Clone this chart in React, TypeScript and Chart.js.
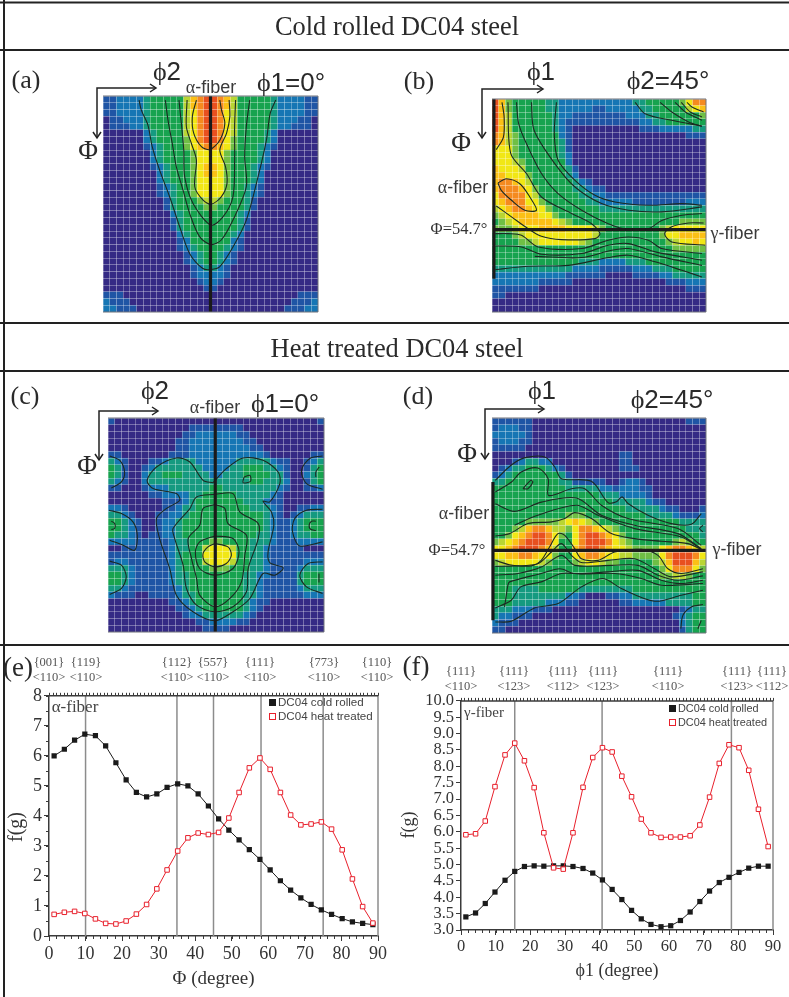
import React, { useEffect, useRef } from "react";
import { Chart, registerables } from "chart.js";

Chart.register(...registerables);

const SERIF = "'Liberation Serif', serif";
const SANS = "'Liberation Sans', sans-serif";

/* ---------- ODF section levels, one character per cell ---------- */
const palette: Record<string, string> = {
  "0": "#352a85", "1": "#1f55a5", "2": "#1676b4", "3": "#159a80", "4": "#17a34f", "5": "#6fbf45",
  "6": "#b9d533", "7": "#f1e715", "8": "#fbc015", "9": "#f58a1f", a: "#e8501f",
};

const gridA = [
  "112222344444689aa986444443222211", "112222344444689aa986444443222211", "112222344444679aa976444443222211",
  "011222344444679aa976444443222110", "011122344444679aa976444443221110", "000000234444679aa976444432000000",
  "000000234444579aa975444432000000", "00000012344457899875444321000000", "00000002344445777754444320000000",
  "00000002344445777754444320000000", "00000001234445788754443210000000", "00000000234445788754443200000000",
  "00000000234445777754443200000000", "00000000123445777754432100000000", "00000000123445777754432100000000",
  "00000000013444566544431000000000", "00000000013444455444431000000000", "00000000002344444444320000000000",
  "00000000001344444444310000000000", "00000000001344444444310000000000", "00000000000234444443200000000000",
  "00000000000124444442100000000000", "00000000000123444432100000000000", "00000000000012344321000000000000",
  "00000000000012344321000000000000", "00000000000001233210000000000000", "00000000000001222210000000000000",
  "00000000000000122100000000000000", "00000000000000011000000000000000", "11100000000000000000000000000111",
  "21110000000000000000000000001112", "22111000000000000000000000011122",
];
const gridB = [
  "a8544444332222222222233444445799", "a8544444332222211222223344444678", "a8644444432211111111222334444445",
  "a8644444432111111111112233444444", "a8644444432100000000001112222233", "98654444442100000000000000000111",
  "98654444443100000000000000000000", "77754444443100000000000000000000", "77754444443200000000000000000000",
  "77765444444200000000000000000000", "87776444444310000000000000000000", "88777544444320000000000000000000",
  "89987644444432100000000000000000", "89998754444433211000000000000000", "79999764444443322111111111111111",
  "78999775444444332222211111111222", "67899877544444443333333333333333", "56788887754444444444444444444444",
  "45678888876544444444444444445555", "55567778888777765444444445677777", "44456777777777764444444445778888",
  "44445567777776544444444444567787", "44444444444444444444444444455555", "44444444444444444444444444444444",
  "44444444444443332222333444444444", "33333333333322221111122233344444", "22222222222111111000011112233333",
  "22222221111100000000000000111222", "11111110000000000000000000000111", "11000000000000000000000000000000",
  "00000000000000000000000000000000", "00000000000000000000000000000000",
];
const gridC = [
  "10000000000000000000000000000001", "00000000000011111111000000000000", "00000000000112222221100000000000",
  "00000000001122222222110000000000", "00000000001122222222211000000000", "11000000011122222222222100000011",
  "32100011233332222223333321100123", "43100123333333222233444332100134", "43100233444333322333444433100234",
  "32100233333333333333344333200134", "11000122233333344333333332100112", "00000011222233444443333321000000",
  "00000000111234444444333211000000", "22100000112334444444433321001122", "33210001122344444444444321012333",
  "44321001223444444444444321123444", "44321001223444444444444321123444", "43321011223444444444443321123344",
  "22221111123344455444433321112222", "00111111123344677764433211111000", "11111111123444777774433211111111",
  "12211111123444677764433211111222", "33321111123444455544433211112333", "44321111123344444444332211113444",
  "44321111123344444444332111113444", "33211111112344444444332111112333", "21110011112334444444332111111222",
  "00000000011234444444321100000000", "00000000001123444444321000000000", "00000000000122333333210000000000",
  "00000000000001122221100000000000", "00000000000000111100000000000000",
];
const gridD = [
  "11111100000000000000000000000111", "12221100000000000000000000000000", "22222100000000000000000000000000",
  "12221100000000000000000000000000", "11111000000000000000000000000000", "00000000000000000001100000000000",
  "00012332200000000001100000000000", "01233444321000000001110000000000", "12344444443100000000000000000000",
  "33444444443311111001221000000000", "44444444444333332212221100000000", "44444444444444443332222100000000",
  "44444444444444444433333211000000", "44444444444444444444333332110001", "44444444444555444444444333321112",
  "44444555556787654444444444443333", "44456899866579987654444444444333", "445789aa975479aa9875444444444443",
  "56789aaa974479aaa976544444456544", "7789aaa9864489aa9877655557899876", "7788998775447899877665555" + "79aaa97",
  "56777776544456776554444456" + "8aaa86", "4444444444444444444444444" + "5799975", "44444444444444444444444445566544",
  "44444444444444444444444444444444", "44433334444443333333344444444444", "44433333333221000112233333333344",
  "44433333222110000001122222333344", "33322211100000000000000000001233", "32211100000000000000000000012344",
  "21110000000000000000000000002344", "11000000000000000000000000001344",
];

/* ---------- contour lines, in degrees [x, y] ---------- */
type Pts = number[][];
const contoursA: Pts[] = [
  [[15.1,1.7],[16,5.8],[18.8,12.1],[20.6,21.1],[23.7,30.9],[27.9,42],[32.1,54.5],[36.3,65.7],[41.8,71.9],[45.2,72.3],[48.8,71.2],[54.4,62.9],[60,51.7],[64.9,33.7],[68.4,18.4],[70,7.2],[72.3,1.7]],
  [[26.1,1.7],[27.2,10],[29,19.8],[30.7,29.5],[33.5,39.2],[36.3,49],[40.5,58.7],[45.2,61.9],[49.5,60],[54.4,51.7],[60,37.8],[59.3,25.3],[60,12.8],[61.4,1.7]],
  [[31.8,1.7],[32.8,11.4],[33.8,22.5],[34.2,33.7],[37.7,44.8],[45.2,53.8],[50.2,50.4],[54.4,42],[55.1,26.7],[55.1,12.8],[55.5,1.7]],
  [[35.2,1.7],[34.9,12.8],[37,19.8],[39.1,26.7],[38.4,37.8],[41.9,43.4],[45.2,45.1],[49.5,42],[51.9,36.5],[51.3,29.5],[48.9,22.5],[51.7,15.6],[53.1,8.6],[52.8,1.7]],
  [[39.1,1.7],[37.4,8.6],[38,15.6],[41.2,21.1],[44.8,22.3],[48.9,18.4],[51,11.4],[49.6,5.8],[48.9,1.7]],
];
const contoursB: Pts[] = [
  [[4.2,1.4],[5.1,7.6],[4.8,16.1],[1.8,21.4]],
  [[6.7,1.4],[7.9,23.1],[14.5,31.5],[20.8,41.4],[33.5,48.4],[41.9,52.7],[45.4,56.9],[43.3,59],[29.2,59.4],[20.8,58],[15.2,54.8],[8.2,49.8],[1.8,45.2]],
  [[89,52.4],[82.7,52.4],[75.6,54],[72.6,56.9],[75.6,60.4],[89.7,61.8]],
  [[2.5,35.5],[6,33.7],[11.7,35.8],[15.9,41.4],[18.7,47],[13.8,47],[8.2,42.8],[3.9,38.6],[2.5,35.5]],
  [[10.3,1.4],[11.2,10.4],[14.5,18.9],[20.8,31.5],[27.8,40],[37.7,47],[48.9,52.7],[57.4,55.2],[65.8,54.8],[71.4,51.3],[79.9,49.1],[88.3,48.4]],
  [[16.6,1.4],[17.7,13.2],[26.4,27.3],[34.9,37.2],[46.1,44.2],[57.4,47],[71.4,47.7],[88.3,45.6]],
  [[27.1,1.4],[26.2,14.6],[27.8,25.9],[34.9,34.4],[43.3,40.7],[51.7,43.5],[65.8,44.9],[79.9,44.2],[88.3,44.9]],
  [[1.4,56.9],[6.7,56.9],[12.4,57.6],[19.4,62.5],[37.7,63.2],[48.9,59.7],[57.4,58.3],[65.8,59.7],[71.4,63.2],[88.3,65.3]],
  [[1.4,62.1],[12.4,62.5],[20.8,65.6],[37.7,65.3],[48.9,61.8],[57.4,61.1],[68.6,64.6],[88.3,68.1]],
  [[18,66.5],[37.7,67],[50.3,63.9],[57.4,63.2],[71.4,66.7],[88.3,70.3]],
  [[1.4,72.1],[15.2,70.7],[32.1,70.3],[48.9,67],[57.4,66],[68.6,68.8],[79.9,72.4],[88.3,75.2]],
  [[60.2,1.4],[64.4,6.2],[75.6,9],[88.3,11.5]],
  [[70.7,1.4],[75.6,5.5],[82.7,9.7],[88.3,11.5]],
  [[77,1.4],[81.3,5.5],[88.3,9]],
  [[79.6,1.4],[83.4,5.5],[88.3,7.6]],
  [[82,1.4],[84.1,3.4],[89,5.5]],
];
const contoursC: Pts[] = [
  [[0.7,16],[4.9,17.8],[6.9,22.7],[5.6,26.9],[1.4,29.4]],
  [[89.4,16],[84.1,17],[80.6,22],[82.7,27.6],[89.4,30]],
  [[88,20.6],[86.6,22.7],[86.6,24.8]],
  [[0.4,38.8],[5.6,40.2],[10.4,43.7],[12.2,49.3],[11.1,55.6],[6.3,53.5],[0.7,51.4]],
  [[1.4,43.4],[2.8,44.4],[2.8,46.5],[1.4,46.9]],
  [[89.4,38.4],[82.7,38.8],[77.8,42.3],[76.9,47.9],[79.9,53.8],[89.4,52.1]],
  [[86.6,43.4],[84.8,43.4],[83.8,45.1],[84.4,46.8],[86.6,47.3]],
  [[0.7,60.2],[5.6,61.9],[7.6,66.8],[5.6,71.7],[0.7,74.2]],
  [[89.4,60.5],[83.4,61.2],[79.9,66.1],[82.7,71],[89.4,73.8]],
  [[87.9,65.4],[87.9,69.2]],
  [[43.8,27.2],[49.3,21.3],[56.3,16.8],[64.6,17.8],[70.9,22.7],[71.6,27.6],[67.4,35.3],[64.6,35],[68.1,39.5],[69.1,45.1],[66.7,56.3],[67.4,60.8],[73,63],[69.5,66.1],[64.6,65.4],[59.1,75.9],[52.1,81.5],[44.5,85.3],[35.4,81.5],[28.5,74.5],[25.7,63.3],[21.5,50.7],[20.2,42.3],[24.3,38.1],[29.9,34.6],[28.5,31.8],[18.8,29.7],[16.3,26.2],[20.2,20.6],[28.5,16.8],[34.1,18.5],[39.6,26.2],[43.8,27.2]],
  [[44.5,32.1],[52.1,31.8],[54.9,39.5],[62.6,44.4],[62.6,50.7],[58.4,63.3],[57.7,73.1],[52.1,79.4],[44.5,81.5],[36.9,78.7],[32.7,71.7],[31.3,61.9],[27.8,50.7],[27.1,46.5],[34.1,38.1],[36.9,33.2],[44.5,32.1]],
  [[44.5,36.4],[48.7,38.1],[50,44.4],[57.7,49.3],[57,57.7],[55.6,68.9],[50.7,76],[44.5,79.4],[38.2,74.5],[36.9,67.5],[34.8,59.1],[33.4,50.7],[38.2,45.1],[39.6,38.1],[44.5,36.4]],
  [[44.5,49.6],[52.1,50.7],[54.6,56.3],[52.1,63.3],[44.5,66.1],[38.2,63.3],[36.4,56.3],[38.2,52.1],[44.5,49.6]],
  [[44.5,52.8],[50,54.2],[51.4,57.7],[49.3,61.2],[44.5,62.6],[40.3,60.5],[39.6,57],[41.7,54.2],[44.5,52.8]],
  [[56.7,24.8],[59.1,24.1],[59.4,26.6],[56.3,27.2],[56.7,24.8]],
];
const contoursD: Pts[] = [
  [[1.4,26.1],[8,19.8],[13.6,16.7],[22.2,16.3],[26.4,20.5],[29.2,25.4],[41.8,26.5],[48.8,35.4],[52.3,35.1],[54.7,33],[57.2,35.8],[65.6,40.7],[75.4,44.2],[83.8,44.5],[88,40]],
  [[1.4,31],[8.2,26.8],[12.3,22.6],[19.3,20.9],[23.6,25.4],[23.8,32.4],[33.4,29.6],[39,29.6],[46,36.5],[57.2,42.1],[78.2,46.3],[88,53.3]],
  [[1.4,35.9],[9.5,39.1],[20.8,35.2],[35.5,33.5],[46,40.7],[60,44.9],[78.2,48.4],[88,54.7]],
  [[9.5,44.9],[18,41.1],[35.5,36.5],[44.6,40.7],[60,46.3],[79.6,49.8],[88.7,55.4]],
  [[1.4,49.4],[7.4,48.4],[15.1,44.2],[25,43.5],[30.6,42.1],[34.8,39.6],[41.8,42.1],[50.2,48.4],[60,50.5],[71.2,51.6],[82.4,52.6],[88.7,55.4]],
  [[1.4,59.6],[7.4,61.4],[16.5,61.9],[20.7,59.6],[24.2,54],[27.7,48.4],[30.6,49.1],[34.8,54.7],[37.6,58.9],[44.6,59.6],[51.6,56.1],[62.8,55],[69.8,57.5],[74,63.1],[79.6,65.1],[88.7,63.1]],
  [[1.4,62.1],[9.5,61.9],[19.3,61],[25,56.1],[29.2,52.6],[33.4,57.5],[37.6,60.5],[48.8,59.6],[60,58.9],[68.4,63.1],[75.4,66.5],[88.7,64.4]],
  [[1.4,65.8],[10.9,65.1],[20.7,62.4],[29.2,57.5],[34.8,61.7],[50.2,61.7],[61.4,61.7],[69.8,65.8],[78.2,67.9],[88.7,66.1]],
  [[5.3,79.1],[6.7,70],[7.4,68.6],[20.7,65.1],[28.5,63.1],[34.8,65.1],[48.8,64.4],[61.4,63.8],[71.2,67.9],[79.6,69.3],[88.7,67.9]],
  [[1.4,79.5],[8.1,76.3],[12.1,70.7],[20.7,68.6],[29.2,65.1],[37.6,65.3],[51.6,65.1],[62.8,67.2],[71.2,70],[88.7,69.3]],
  [[1.4,85.4],[8.1,85.1],[17.9,79.5],[27.8,77.7],[37.6,70.7],[46.7,67.2],[54.4,71.4],[68.4,76.7],[79.6,74.2],[88.7,72.1]],
  [[79.4,88.2],[80.3,82.6],[83.8,79.1],[88.7,78.1]],
  [[86.6,88.2],[88,84.7]],
  [[13,29.6],[16.3,26.1],[17.2,26.8],[15.1,29.6],[13,29.6]],
  [[88.7,44.9],[87.3,46.3],[88.7,47.7]],
];

/* fibre lines drawn in black on the sections */
const fibreA: Pts[] = [[[45, 0], [45, 90]]];
const fibreB: Pts[] = [[[0.8, 0], [0.8, 75.9]], [[0.8, 55.2], [90, 55.2]]];
const fibreC: Pts[] = [[[44.7, 0], [44.7, 90]]];
const fibreD: Pts[] = [[[0.4, 26.8], [0.4, 84.7]], [[0.8, 55.4], [90, 55.4]]];

/* ---------- f(g) curves ---------- */
const fibreAngles = [1.4, 4.2, 7, 9.8, 12.7, 15.5, 18.3, 21.1, 23.9, 26.7, 29.5, 32.3, 35.2, 38, 40.8, 43.6, 46.4, 49.2, 52, 54.8, 57.7, 60.5, 63.3, 66.1, 68.9, 71.7, 74.5, 77.3, 80.2, 83, 85.8, 88.6];
const alphaCold = [6.0, 6.22, 6.52, 6.72, 6.67, 6.33, 5.77, 5.2, 4.78, 4.63, 4.73, 4.95, 5.07, 5.0, 4.73, 4.33, 3.9, 3.53, 3.2, 2.88, 2.55, 2.2, 1.84, 1.53, 1.27, 1.05, 0.87, 0.72, 0.58, 0.47, 0.42, 0.38];
const alphaHeat = [0.72, 0.79, 0.82, 0.75, 0.57, 0.42, 0.4, 0.5, 0.73, 1.05, 1.57, 2.2, 2.83, 3.27, 3.43, 3.38, 3.45, 3.93, 4.78, 5.6, 5.93, 5.55, 4.78, 4.03, 3.7, 3.73, 3.8, 3.56, 2.87, 1.9, 0.98, 0.43];
const gammaCold = [3.4, 3.52, 3.81, 4.16, 4.52, 4.79, 4.94, 4.96, 4.95, 4.96, 4.96, 4.94, 4.88, 4.74, 4.53, 4.24, 3.93, 3.6, 3.34, 3.17, 3.1, 3.13, 3.29, 3.55, 3.87, 4.19, 4.45, 4.61, 4.76, 4.89, 4.95, 4.95];
const gammaHeat = [5.91, 5.94, 6.33, 7.38, 8.35, 8.71, 8.17, 7.35, 5.97, 4.9, 4.86, 5.97, 7.36, 8.27, 8.57, 8.44, 7.7, 7.07, 6.39, 5.97, 5.83, 5.84, 5.84, 5.88, 6.21, 7.06, 8.09, 8.66, 8.57, 7.88, 6.69, 5.55];
const alphaGuides = [10, 35, 45, 58, 75, 90];
const gammaGuides = [15.5, 40.7, 78, 90];

const alphaComponents = [
  { x: 49, a: "{001}", b: "<110>" }, { x: 86, a: "{119}", b: "<110>" }, { x: 177, a: "{112}", b: "<110>" },
  { x: 213, a: "{557}", b: "<110>" }, { x: 260, a: "{111}", b: "<110>" }, { x: 324, a: "{773}", b: "<110>" }, { x: 377, a: "{110}", b: "<110>" },
];
const gammaComponents = [
  { x: 461, a: "{111}", b: "<110>" }, { x: 514, a: "{111}", b: "<123>" }, { x: 563, a: "{111}", b: "<112>" },
  { x: 603, a: "{111}", b: "<123>" }, { x: 668, a: "{111}", b: "<110>" }, { x: 737, a: "{111}", b: "<123>" }, { x: 772, a: "{111}", b: "<112>" },
];

/* ---------- chart builders ---------- */
const CELL_DEG = 2.8125;

function cellsOf(grid: string[]) {
  const data: { x: number; y: number }[] = [];
  const colors: string[] = [];
  grid.forEach((row, j) => {
    [...row].forEach((c, i) => {
      data.push({ x: (i + 0.5) * CELL_DEG, y: (j + 0.5) * CELL_DEG });
      colors.push(palette[c]);
    });
  });
  return { data, colors };
}

const PAD = 3;
const framePlugin = (color: string, width: number) => ({
  id: "frame",
  afterDatasetDraw(chart: any, args: any) {
    if (args.index === 0) {
      chart.scales.x.drawGrid(chart.chartArea);
      chart.scales.y.drawGrid(chart.chartArea);
    }
  },
  afterDraw(chart: any) {
    const { ctx, chartArea: a } = chart;
    ctx.save();
    ctx.strokeStyle = color;
    ctx.lineWidth = width;
    ctx.beginPath();
    ctx.moveTo(a.left, a.top); ctx.lineTo(a.right, a.top); ctx.lineTo(a.right, a.bottom); ctx.lineTo(a.left, a.bottom);
    ctx.stroke();
    ctx.restore();
  },
});

function buildHeat(canvas: HTMLCanvasElement, w: number, grid: string[], contours: Pts[], fibres: Pts[]) {
  const { data, colors } = cellsOf(grid);
  const toXY = (p: Pts) => p.map(([x, y]) => ({ x, y }));
  const axis = (reverse: boolean) => ({
    type: "linear", min: 0, max: 90, reverse,
    ticks: { display: false, stepSize: CELL_DEG },
    grid: { z: -1, color: "rgba(255,255,255,0.3)", lineWidth: 1, drawTicks: false },
    border: { display: false },
    afterFit: (s: any) => { if (s.isHorizontal()) s.height = 0; else s.width = 0; },
  });
  return new Chart(canvas, {
    type: "scatter",
    data: {
      datasets: [
        { label: "levels", data, order: 3, showLine: false, pointStyle: "rect", pointRadius: (w / 32) / Math.SQRT2 + 0.25, pointHoverRadius: 0, pointBorderWidth: 0, pointBackgroundColor: colors },
        ...contours.map((c, i) => ({ label: "contour " + i, data: toXY(c), order: 2, showLine: true, borderColor: "#1c2a22", borderWidth: 1.1, tension: 0.3, pointRadius: 0 })),
        ...fibres.map((c, i) => ({ label: "fibre " + i, data: toXY(c), order: 1, showLine: true, borderColor: "#1a1a1a", borderWidth: 3.2, pointRadius: 0, clip: false })),
      ],
    } as any,
    options: {
      animation: false, responsive: false,
      layout: { padding: PAD, autoPadding: false },
      plugins: { legend: { display: false }, tooltip: { enabled: false } },
      scales: { x: axis(false), y: axis(true) },
    } as any,
    plugins: [framePlugin("#70727a", 1)],
  });
}

function buildLine(canvas: HTMLCanvasElement, o: {
  cold: number[]; heat: number[]; guides: number[]; yMin: number; yMax: number; yStep: number; yFmt: (v: number) => string;
  yMinor: number; xTitle: string; tickSize: number; yW: number; xH: number; padTop: number; padRight: number; ttlSize: number;
}) {
  const pts = (ys: number[]) => ys.map((y, i) => ({ x: fibreAngles[i], y }));
  const ink = "#3a3a3a";
  const ticksPlugin = {
    id: "minorTicks",
    afterDraw(chart: any) {
      const { ctx, chartArea: a, scales } = chart;
      ctx.save();
      ctx.strokeStyle = ink;
      ctx.lineWidth = 1;
      ctx.beginPath();
      for (let v = 0; v <= 90; v += 2) {
        const px = Math.round(scales.x.getPixelForValue(v)) + 0.5;
        ctx.moveTo(px, a.bottom); ctx.lineTo(px, a.bottom + 3);
      }
      for (let v = 0; v <= 90; v += 1) {
        const px = Math.round(scales.x.getPixelForValue(v)) + 0.5;
        ctx.moveTo(px, a.top); ctx.lineTo(px, a.top - 3);
      }
      if (o.yMinor > 0) {
        for (let v = o.yMin; v <= o.yMax; v += o.yMinor) {
          const py = Math.round(scales.y.getPixelForValue(v)) + 0.5;
          ctx.moveTo(a.left, py); ctx.lineTo(a.left - 3, py);
        }
      }
      ctx.stroke();
      ctx.strokeStyle = ink;
      ctx.lineWidth = 1.5;
      ctx.beginPath();
      ctx.moveTo(a.left, a.top); ctx.lineTo(a.right, a.top);
      ctx.stroke();
      ctx.restore();
    },
  };
  return new Chart(canvas, {
    type: "scatter",
    data: {
      datasets: [
        ...o.guides.map((g) => ({ label: "component " + g, data: [{ x: g, y: o.yMin }, { x: g, y: o.yMax }], order: 3, showLine: true, borderColor: "#8c8c8c", borderWidth: 1.5, pointRadius: 0, clip: false })),
        { label: "DC04 cold rolled", data: pts(o.cold), order: 2, showLine: true, borderColor: "#1a1a1a", borderWidth: 1, pointStyle: "rect", pointRadius: 3.7, pointBackgroundColor: "#1a1a1a", pointBorderColor: "#1a1a1a", pointBorderWidth: 0 },
        { label: "DC04 heat treated", data: pts(o.heat), order: 1, showLine: true, borderColor: "#e8202c", borderWidth: 1, pointStyle: "rect", pointRadius: 3.2, pointBackgroundColor: "#ffffff", pointBorderColor: "#e8202c", pointBorderWidth: 1 },
      ],
    } as any,
    options: {
      animation: false, responsive: false,
      layout: { padding: { top: o.padTop, right: o.padRight, left: 0, bottom: 0 } },
      plugins: { legend: { display: false }, tooltip: { enabled: false } },
      scales: {
        x: {
          type: "linear", min: 0, max: 90,
          ticks: { stepSize: 10, padding: 2, maxRotation: 0, color: "#333", font: { family: SERIF, size: o.tickSize }, autoSkip: false },
          grid: { drawOnChartArea: false, tickLength: 5, color: ink, tickWidth: 1 },
          border: { color: ink, width: 1.5 },
          title: { display: true, text: o.xTitle, color: "#333", font: { family: SERIF, size: o.ttlSize }, padding: 0 },
          afterFit: (s: any) => { s.height = o.xH; },
        },
        y: {
          type: "linear", min: o.yMin, max: o.yMax,
          ticks: { stepSize: o.yStep, padding: 2, color: "#333", font: { family: SERIF, size: o.tickSize }, autoSkip: false, callback: (v: number) => o.yFmt(v) },
          grid: { drawOnChartArea: false, tickLength: 5, color: ink, tickWidth: 1 },
          border: { color: ink, width: 1.5 },
          afterFit: (s: any) => { s.width = o.yW; },
        },
      },
    } as any,
    plugins: [ticksPlugin],
  });
}

/* ---------- page pieces ---------- */
function T(p: { x: number; y: number; s: number; f?: string; c?: string; children: React.ReactNode; left?: boolean; rot?: boolean }) {
  return (
    <div style={{
      position: "absolute", left: p.x, top: p.y, fontSize: p.s, fontFamily: p.f || SERIF, color: p.c || "#2a2a2a",
      lineHeight: 1, whiteSpace: "nowrap",
      transform: p.left ? "translate(0,-50%)" : p.rot ? "translate(-50%,-50%) rotate(-90deg)" : "translate(-50%,-50%)",
    }}>{p.children}</div>
  );
}

function Phi(p: { x: number; y: number; n: string; s?: number }) {
  return <T x={p.x} y={p.y} s={p.s || 26} f={SANS}><span style={{ fontFamily: SERIF }}>ϕ</span>{p.n}</T>;
}

function Fibre(p: { x: number; y: number; n: string; s?: number }) {
  return <T x={p.x} y={p.y} s={p.s || 18} f={SANS} c="#3a3a3a"><span style={{ fontFamily: SERIF }}>{p.n}</span>-fiber</T>;
}

function Axes(p: { x: number; y: number; r: number; d: number }) {
  const { x, y, r, d } = p;
  return (
    <g fill="none" stroke="#222" strokeWidth={1.5}>
      <polyline points={`${r},${y} ${x},${y} ${x},${d}`} />
      <polyline points={`${r - 6},${y - 4} ${r},${y} ${r - 6},${y + 4}`} />
      <polyline points={`${x - 4},${d - 6} ${x},${d} ${x + 4},${d - 6}`} />
    </g>
  );
}

function Heat(p: { l: number; t: number; w: number; h: number; grid: string[]; contours: Pts[]; fibres: Pts[] }) {
  const ref = useRef<HTMLCanvasElement>(null);
  useEffect(() => {
    const c = buildHeat(ref.current!, p.w, p.grid, p.contours, p.fibres);
    return () => c.destroy();
  }, []);
  return <canvas ref={ref} width={p.w + 2 * PAD} height={p.h + 2 * PAD}
    style={{ position: "absolute", left: p.l - PAD, top: p.t - PAD, width: p.w + 2 * PAD, height: p.h + 2 * PAD }} />;
}

function Curves(p: { l: number; t: number; w: number; h: number; o: any }) {
  const ref = useRef<HTMLCanvasElement>(null);
  useEffect(() => {
    const c = buildLine(ref.current!, p.o);
    return () => c.destroy();
  }, []);
  return <canvas ref={ref} width={p.w} height={p.h}
    style={{ position: "absolute", left: p.l, top: p.t, width: p.w, height: p.h }} />;
}

function Legend(p: { x: number; y1: number; y2: number; s: number }) {
  const base = { position: "absolute" as const, left: p.x - 3, width: 7, height: 7, boxSizing: "border-box" as const };
  return (
    <>
      <div style={{ ...base, top: p.y1 - 3, background: "#1a1a1a" }} />
      <div style={{ ...base, top: p.y2 - 3, background: "#fff", border: "1px solid #e8202c" }} />
      <T left x={p.x + 6} y={p.y1} s={p.s} f={SANS} c="#444">DC04 cold rolled</T>
      <T left x={p.x + 6} y={p.y2} s={p.s} f={SANS} c="#444">DC04 heat treated</T>
    </>
  );
}

function Components(p: { items: { x: number; a: string; b: string }[]; y1: number; y2: number }) {
  return (
    <>
      {p.items.map((m, i) => (
        <React.Fragment key={i}>
          <T x={m.x} y={p.y1} s={12.5} c="#555">{m.a}</T>
          <T x={m.x} y={p.y2} s={12.5} c="#555">{m.b}</T>
        </React.Fragment>
      ))}
    </>
  );
}

export default function App() {
  return (
    <div style={{ position: "absolute", left: 0, top: 0, width: 789, height: 997, background: "#fff", overflow: "hidden" }}>
      <Heat l={103} t={96} w={215} h={216} grid={gridA} contours={contoursA} fibres={fibreA} />
      <Heat l={492} t={99} w={214} h={213} grid={gridB} contours={contoursB} fibres={fibreB} />
      <Heat l={108} t={418} w={216} h={214} grid={gridC} contours={contoursC} fibres={fibreC} />
      <Heat l={492} t={418} w={214} h={215} grid={gridD} contours={contoursD} fibres={fibreD} />

      <Curves l={5} t={683} w={385} h={307} o={{
        cold: alphaCold, heat: alphaHeat, guides: alphaGuides, yMin: 0, yMax: 8, yStep: 1, yMinor: 0.5,
        yFmt: (v: number) => String(v), xTitle: "Φ (degree)", tickSize: 18, ttlSize: 19,
        yW: 44, xH: 54, padTop: 9, padRight: 12,
      }} />
      <Curves l={397} t={689} w={390} h={293} o={{
        cold: gammaCold, heat: gammaHeat, guides: gammaGuides, yMin: 3, yMax: 10, yStep: 0.5, yMinor: 0,
        yFmt: (v: number) => v.toFixed(1), xTitle: "ϕ1 (degree)", tickSize: 16.5, ttlSize: 18,
        yW: 64, xH: 52, padTop: 9, padRight: 14,
      }} />

      <svg width={789} height={997} style={{ position: "absolute", left: 0, top: 0, pointerEvents: "none" }}>
        <g stroke="#222" strokeWidth={2}>
          <line x1={0} y1={2.5} x2={789} y2={2.5} />
          <line x1={0} y1={50} x2={789} y2={50} />
          <line x1={0} y1={323} x2={789} y2={323} />
          <line x1={0} y1={371} x2={789} y2={371} />
          <line x1={0} y1={645} x2={789} y2={645} />
          <line x1={4} y1={0} x2={4} y2={997} />
        </g>
        <Axes x={97} y={88} r={156} d={138} />
        <Axes x={482} y={89} r={543} d={138} />
        <Axes x={99} y={411} r={158} d={460} />
        <Axes x={485} y={409} r={544} d={459} />
      </svg>

      <T x={397} y={26} s={26.4}>Cold rolled DC04 steel</T>
      <T x={397} y={348} s={26.4}>Heat treated DC04 steel</T>

      <T x={26} y={80} s={26}>(a)</T>
      <Phi x={167} y={71} n="2" />
      <Fibre x={211} y={87} n="α" />
      <Phi x={291} y={82} n="1=0°" />
      <T x={88} y={150} s={27}>Φ</T>

      <T x={419} y={81} s={26}>(b)</T>
      <Phi x={541} y={71} n="1" />
      <Phi x={668} y={80} n="2=45°" />
      <T x={461} y={142} s={27}>Φ</T>
      <Fibre x={463} y={187} n="α" />
      <T x={459} y={229} s={16.5} c="#333">Φ=54.7°</T>
      <Fibre x={735} y={233} n="γ" />

      <T x={25} y={396} s={26}>(c)</T>
      <Phi x={155} y={390} n="2" />
      <Fibre x={215} y={407} n="α" />
      <Phi x={285} y={403} n="1=0°" />
      <T x={87} y={465} s={27}>Φ</T>

      <T x={418} y={396} s={26}>(d)</T>
      <Phi x={542} y={390} n="1" />
      <Phi x={672} y={399} n="2=45°" />
      <T x={467} y={453} s={27}>Φ</T>
      <Fibre x={464} y={513} n="α" />
      <T x={457} y={550} s={16.5} c="#333">Φ=54.7°</T>
      <Fibre x={737} y={549} n="γ" />

      <T x={18} y={667} s={27}>(e)</T>
      <T x={416} y={666} s={27}>(f)</T>
      <Components items={alphaComponents} y1={662} y2={677} />
      <Components items={gammaComponents} y1={671} y2={686} />
      <T x={75} y={706} s={17} c="#444">α-fiber</T>
      <T x={484} y={712} s={15} c="#444">γ-fiber</T>
      <T rot x={15} y={827} s={20} c="#333">f(g)</T>
      <T rot x={408} y={825} s={18} c="#333">f(g)</T>
      <Legend x={272} y1={702} y2={716} s={11.6} />
      <Legend x={672} y1={708} y2={722} s={10.9} />
    </div>
  );
}
